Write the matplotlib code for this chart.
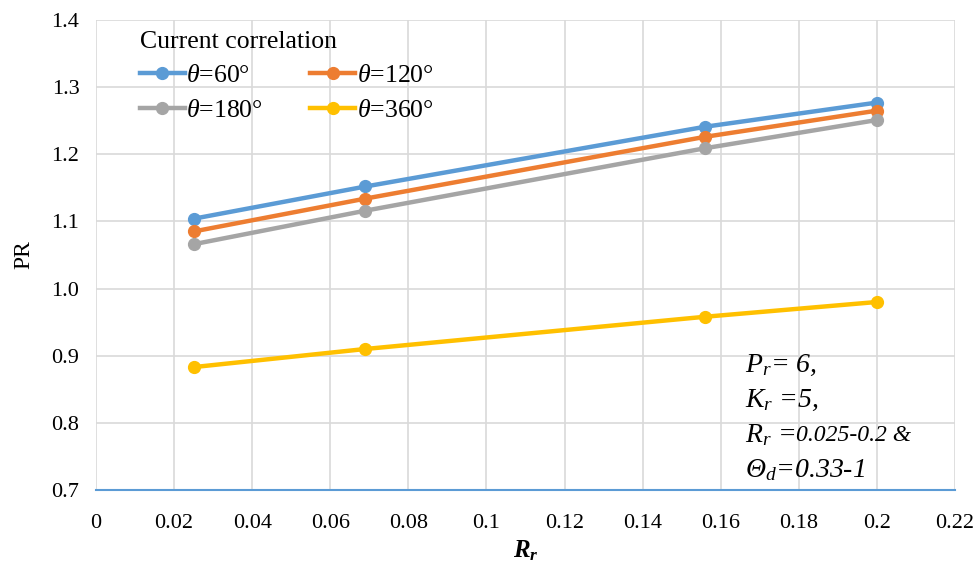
import matplotlib.pyplot as plt

plt.rcParams['font.family'] = 'Liberation Serif'
plt.rcParams['mathtext.fontset'] = 'custom'
plt.rcParams['mathtext.rm'] = 'Liberation Serif'
plt.rcParams['mathtext.it'] = 'Liberation Serif:italic'
plt.rcParams['mathtext.bf'] = 'Liberation Serif:bold'
plt.rcParams['mathtext.bfit'] = 'Liberation Serif:italic:bold'

# PR vs R_r for four rotation angles
rr = [0.025, 0.069, 0.156, 0.2]
pr_60 = [1.104, 1.152, 1.241, 1.277]
pr_120 = [1.085, 1.134, 1.226, 1.265]
pr_180 = [1.066, 1.116, 1.209, 1.251]
pr_360 = [0.883, 0.910, 0.958, 0.980]

series = [(pr_60, r'$\theta$=60°', '#5B9BD5'),
          (pr_120, r'$\theta$=120°', '#ED7D31'),
          (pr_180, r'$\theta$=180°', '#A5A5A5'),
          (pr_360, r'$\theta$=360°', '#FFC000')]

xticks = [0, 0.02, 0.04, 0.06, 0.08, 0.1, 0.12, 0.14, 0.16, 0.18, 0.2, 0.22]
xticklabels = ['0', '0.02', '0.04', '0.06', '0.08', '0.1', '0.12', '0.14', '0.16', '0.18', '0.2', '0.22']
yticks = [0.7, 0.8, 0.9, 1.0, 1.1, 1.2, 1.3, 1.4]

fig = plt.figure(figsize=(9.74, 5.63), dpi=100)
ax = fig.add_axes([0.0986, 0.1297, 0.8819, 0.8348])

lines = []
for y, lab, c in series:
    ln, = ax.plot(rr, y, color=c, lw=3.2, marker='o', ms=8.5, label=lab, zorder=3)
    lines.append(ln)

ax.set_xlim(0, 0.22)
ax.set_ylim(0.7, 1.4)
ax.set_xticks(xticks)
ax.set_xticklabels(xticklabels)
ax.set_yticks(yticks)
ax.set_yticklabels([f'{v:.1f}' for v in yticks])
ax.tick_params(length=0, labelsize=16)
ax.tick_params(axis='x', pad=17)
ax.tick_params(axis='y', pad=12)
ax.grid(True, color='#D9D9D9', lw=1.2)
ax.set_axisbelow(True)
for s in ['left', 'top', 'right']:
    ax.spines[s].set_visible(False)
ax.spines['bottom'].set_color('#5B9BD5')
ax.spines['bottom'].set_linewidth(1.5)
ax.spines['bottom'].set_zorder(4)

ax.set_ylabel('PR', fontsize=17, labelpad=12)
ax.set_xlabel(r'$\mathbfit{R_r}$', fontsize=18, labelpad=4)

# legend filled row by row: 60, 120 on top; 180, 360 below
order = [0, 2, 1, 3]
leg = ax.legend([lines[i] for i in order], [series[i][1] for i in order],
                ncol=2, loc='upper left', bbox_to_anchor=(0.033, 1.01), frameon=False,
                title='Current correlation', fontsize=18.5, title_fontsize=18.5,
                handlelength=1.75, columnspacing=1.85, handletextpad=0.05,
                labelspacing=0.45, borderaxespad=0.2)
leg._legend_box.align = 'left'

ax.text(0.1662, 0.886, r'$P_r$= 6,', fontsize=20, style='italic', va='center')
ax.text(0.1662, 0.834, r'$K_r$ =5,', fontsize=20, style='italic', va='center')
ax.text(0.1662, 0.781, r'$R_r$ =', fontsize=20, style='italic', va='center')
ax.text(0.1792, 0.781, '0.025-0.2 &', fontsize=17, style='italic', va='center')
ax.text(0.1662, 0.729, 'Θ$_d$=0.33-1', fontsize=20, style='italic', va='center')

fig.savefig('out.png', dpi=100)
